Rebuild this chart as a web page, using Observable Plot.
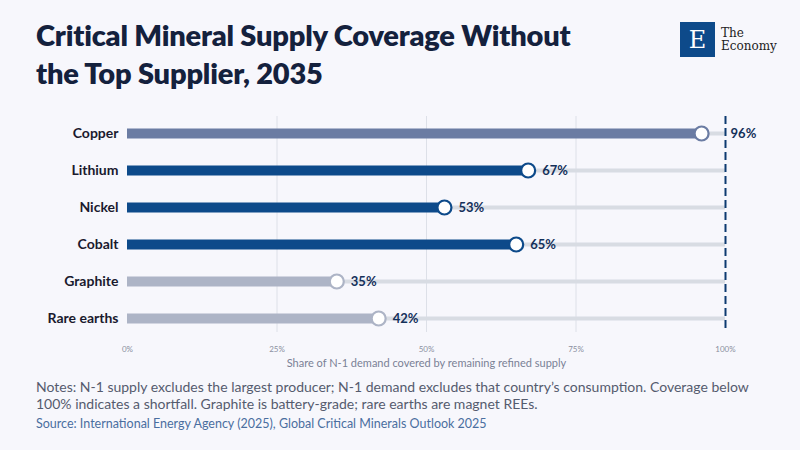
<!DOCTYPE html>
<html><head><meta charset="utf-8">
<script src="https://cdn.jsdelivr.net/npm/d3@7"></script>
<script src="https://cdn.jsdelivr.net/npm/@observablehq/plot@0.6"></script>
<style>
body{margin:0;background:#f7f7fc;font-family:Lato,"Noto Sans",sans-serif;}
#wrap{position:relative;width:800px;height:450px;overflow:hidden;background:#f7f7fc;}
h1{position:absolute;left:36px;top:16px;margin:0;font-size:29px;line-height:38px;font-weight:800;color:#14213d;width:560px;letter-spacing:-0.2px}
#logo{position:absolute;left:680px;top:22px;display:flex;align-items:center}
#logo .box{width:35px;height:35px;background:#0d4a8a;color:#fff;font-family:"DejaVu Serif",serif;font-size:24px;display:flex;align-items:center;justify-content:center;position:relative}
#logo .t{font-family:"DejaVu Serif",serif;font-size:12px;line-height:13px;margin-left:6px;color:#222}
#chart{position:absolute;left:0;top:108px}
#notes{position:absolute;left:36px;top:378px;width:740px;font-size:14px;line-height:17px;color:#555b6e}
#src{position:absolute;left:36px;top:416px;font-size:12.5px;color:#4a6ea0}
</style></head><body>
<div id="wrap">
<h1>Critical Mineral Supply Coverage Without the Top Supplier, 2035</h1>
<div id="logo"><div class="box">E</div><div class="t">The<br>Economy</div></div>
<div id="chart"></div>
<div id="notes">Notes: N-1 supply excludes the largest producer; N-1 demand excludes that country’s consumption. Coverage below 100% indicates a shortfall. Graphite is battery-grade; rare earths are magnet REEs.</div>
<div id="src">Source: International Energy Agency (2025), Global Critical Minerals Outlook 2025</div>
</div>
<script>
const minerals=["Copper","Lithium","Nickel","Cobalt","Graphite","Rare earths"];
const coverage=[96,67,53,65,35,42];
const colors=["#6b7ca3","#0d4a8a","#0d4a8a","#0d4a8a","#adb4c6","#adb4c6"];
const ticks=[0,25,50,75,100];
const xlabel="Share of N-1 demand covered by remaining refined supply";
const data=minerals.map((m,i)=>({m,v:coverage[i],c:colors[i]}));
const chart=Plot.plot({
  width:800,height:262,marginLeft:127,marginRight:75,marginTop:8,marginBottom:30,
  style:{background:"transparent",fontFamily:"Lato, sans-serif"},
  x:{domain:[0,100]},
  y:{type:"point",domain:minerals,padding:0,insetTop:17,insetBottom:22,label:null},
  marks:[
    Plot.ruleX([25,50,75],{stroke:"#dde0e8",strokeWidth:1,insetBottom:8}),
    Plot.ruleY(data,{y:"m",x1:0,x2:100,stroke:"#d8dce3",strokeWidth:4}),
    Plot.ruleY(data,{y:"m",x1:0,x2:"v",stroke:"c",strokeWidth:10}),
    Plot.ruleX([100],{stroke:"#0d3a70",strokeWidth:2,strokeDasharray:"8,4",insetBottom:10}),
    Plot.dot(data,{y:"m",x:"v",r:7,fill:"white",stroke:"c",strokeWidth:2.2}),
    Plot.text(data,{filter:d=>d.v<90,y:"m",x:"v",text:d=>d.v+"%",dx:14,textAnchor:"start",fill:"#14305a",fontSize:13,fontWeight:"bold"}),
    Plot.text(data,{filter:d=>d.v>=90,y:"m",x:"v",text:d=>d.v+"%",dx:29,textAnchor:"start",fill:"#14305a",fontSize:13,fontWeight:"bold"}),
    Plot.axisY({tickSize:0,tickPadding:9,fontSize:14,fontWeight:"bold",fill:"#1a1a2e",label:null}),
    Plot.axisX({ticks,tickFormat:d=>d+"%",tickSize:0,tickPadding:6,fontSize:8,fill:"#8a8fa0",label:xlabel,labelAnchor:"center",labelArrow:"none",labelOffset:26})
  ]
});
chart.querySelectorAll("[aria-label='x-axis label'] text").forEach(t=>{t.setAttribute("font-size","11");t.setAttribute("fill","#7a8196");});
document.getElementById("chart").appendChild(chart);
</script>
</body></html>
